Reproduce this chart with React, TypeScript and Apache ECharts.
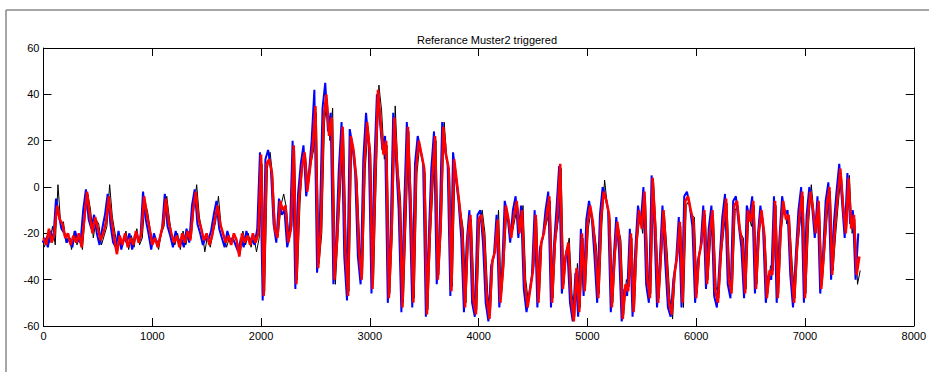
import React, { useEffect, useRef } from "react";
import * as echarts from "echarts";

const TITLE = "Referance Muster2 triggered";
const X_MIN = 0;
const X_MAX = 8000;
const X_INTERVAL = 1000;
const Y_MIN = -60;
const Y_MAX = 60;
const Y_INTERVAL = 20;
// sample spacing of the read-off values
const STEP = 25;
const BLUE_SHIFT = -10;
const BLACK_SHIFT = 8;

const RED = [
  -22, -25, -18, -24, -20, -8, -14, -16, -22, -20,
  -25, -21, -24, -20, -26, -14, -2, -12, -20, -13,
  -18, -23, -20, -15, -4, -14, -22, -29, -21, -25,
  -20, -26, -22, -25, -19, -24, -20, -4, -12, -18,
  -25, -22, -26, -21, -16, -5, -15, -20, -24, -21,
  -26, -20, -24, -19, -23, -10, -2, -14, -18, -23,
  -20, -25, -21, -14, -8, -16, -20, -24, -21, -25,
  -20, -23, -30, -20, -24, -21, -25, -20, -24, -20,
  14, -47, 10, 12, 6, -18, -22, -6, -10, -8,
  -24, -18, 18, -42, -5, 8, 15, -2, 8, 18,
  35, -35, -18, 30, 40, 22, 30, -40, -22, 5,
  26, -28, -47, 22, 16, 4, -28, -40, 10, 28,
  15, -44, 5, 42, 28, 14, 20, -48, -20, 30,
  10, -8, -52, -12, 26, -8, -50, 8, 20, 14,
  8, -55, -22, 5, 22, -40, -18, 26, 14, 8,
  -45, 12, 2, -8, -20, -52, -22, -12, -48, -55,
  -14, -12, -22, -48, -57, -32, -28, -14, -50, -35,
  -8, -14, -22, -12, -6, -20, -10, -42, -52, -44,
  -36, -12, -50, -24, -20, -12, -4, -50, -25, -12,
  10, -44, -30, -24, -48, -58, -35, -54, -20, -45,
  -16, -8, -15, -28, -48, -14, -2, -6, -12, -52,
  -30, -15, -25, -57, -42, -45, -20, -54, -25, -10,
  -18, -2, -40, -48, 4, -18, -50, -30, -10, -30,
  -50, -55, -38, -30, -15, -50, -6, -4, -10, -15,
  -48, -30, -24, -10, -42, -20, -10, -45, -50, -30,
  -15, -5, -40, -46, -8, -6, -18, -24, -46, -10,
  -15, -6, -44, -20, -10, -20, -48, -36, -38, -6,
  -48, -20, -6, -14, -12, -36, -50, -28, -12, -2,
  -48, -14, -2, -10, -20, -6, -44, -28, -8, 0,
  -38, -18, -4, 8, -8, -20, 4, -18, -12, -38,
  -30,
];

const BLUE = [
  -24, -22, -26, -19, -23, -5, -12, -18, -20, -24,
  -22, -26, -19, -23, -24, -10, -1, -14, -18, -12,
  -20, -25, -18, -12, -3, -16, -24, -26, -19, -27,
  -22, -24, -20, -27, -21, -22, -23, -2, -14, -20,
  -27, -20, -24, -23, -18, -3, -17, -21, -26, -19,
  -24, -22, -26, -18, -24, -8, -1, -16, -20, -25,
  -22, -23, -19, -12, -6, -18, -22, -26, -19, -23,
  -22, -25, -28, -22, -26, -19, -23, -22, -25, -18,
  15, -49, 12, 16, 8, -16, -24, -5, -12, -10,
  -26, -20, 20, -44, -3, 10, 18, -4, 6, 20,
  42, -37, -16, 34, 45, 24, 32, -42, -24, 8,
  28, -30, -49, 25, 18, 6, -30, -42, 12, 32,
  18, -46, 8, 40, 30, 16, 22, -50, -22, 32,
  12, -10, -54, -10, 28, -6, -52, 10, 22, 16,
  10, -56, -24, 8, 24, -42, -20, 28, 16, 10,
  -47, 15, 4, -6, -22, -54, -24, -10, -50, -56,
  -12, -10, -24, -50, -58, -34, -30, -12, -52, -37,
  -6, -12, -24, -10, -4, -22, -8, -44, -54, -46,
  -38, -10, -52, -26, -22, -10, -2, -52, -27, -10,
  9, -46, -32, -26, -50, -58, -37, -56, -18, -47,
  -14, -6, -13, -30, -50, -12, 0, -4, -10, -54,
  -32, -13, -27, -58, -44, -47, -18, -56, -27, -8,
  -16, 0, -42, -50, 5, -16, -52, -32, -8, -32,
  -52, -56, -40, -32, -13, -52, -4, -2, -8, -17,
  -50, -32, -26, -8, -44, -18, -8, -47, -52, -32,
  -13, -3, -42, -48, -6, -4, -16, -26, -48, -8,
  -13, -4, -46, -22, -8, -18, -50, -38, -40, -4,
  -50, -22, -4, -12, -10, -38, -52, -30, -10, 0,
  -50, -12, 0, -8, -22, -4, -46, -30, -6, 2,
  -40, -16, -2, 10, -6, -22, 6, -16, -10, -40,
  -20,
];

const BLACK = [
  -26, -21, -24, -17, -25, 1, -16, -15, -24, -21,
  -27, -19, -25, -21, -27, -12, -3, -10, -22, -14,
  -16, -25, -21, -17, 1, -13, -20, -27, -22, -24,
  -19, -27, -21, -26, -18, -25, -22, -6, -11, -19,
  -24, -23, -27, -20, -17, -4, -14, -22, -25, -20,
  -27, -19, -25, -20, -22, -9, 1, -13, -19, -28,
  -21, -26, -20, -15, -4, -17, -21, -26, -22, -24,
  -21, -24, -29, -19, -25, -20, -26, -21, -28, -22,
  10, -45, 8, 15, 4, -20, -21, -8, -3, -9,
  -22, -17, 16, -40, -7, 12, 14, 0, 10, 16,
  32, -33, -20, 28, 38, 20, 34, -42, -20, 3,
  24, -26, -45, 20, 14, 2, -26, -38, 8, 26,
  14, -42, 3, 44, 33, 12, 18, -46, -18, 35,
  8, -6, -50, -14, 24, -10, -48, 6, 18, 12,
  6, -53, -20, 3, 20, -38, -16, 28, 12, 6,
  -43, 10, 0, -10, -18, -50, -20, -14, -46, -53,
  -16, -10, -20, -46, -55, -30, -26, -10, -48, -33,
  -10, -16, -20, -14, -8, -18, -8, -40, -50, -42,
  -34, -14, -48, -22, -18, -14, -6, -48, -23, -14,
  8, -42, -28, -22, -46, -56, -33, -52, -22, -43,
  -18, -10, -17, -26, -46, -16, 3, -8, -14, -50,
  -28, -17, -23, -55, -40, -43, -22, -52, -23, -12,
  -20, -4, -38, -46, 2, -20, -48, -28, -12, -28,
  -48, -57, -36, -28, -17, -52, -8, -6, -12, -13,
  -46, -28, -22, -12, -40, -22, -12, -43, -48, -28,
  -17, -7, -38, -44, -10, -8, -20, -22, -44, -12,
  -17, -8, -42, -18, -12, -22, -46, -34, -36, -8,
  -46, -18, -8, -16, -14, -34, -48, -26, -14, -4,
  -46, -16, 1, -12, -18, -8, -42, -26, -10, -2,
  -36, -20, -6, 6, -10, -18, 5, -20, -14, -42,
  -36,
];

const FONT = "Liberation Sans, Arial, sans-serif";

function pairs(vals: number[], shift: number) {
  return vals.map((v, i) => [i * STEP + shift, v]);
}

export default function App() {
  const ref = useRef<HTMLDivElement>(null);
  useEffect(() => {
    if (!ref.current) return;
    const chart = echarts.init(ref.current, undefined, { renderer: "svg" });
    const axisLine = { show: true, onZero: false, lineStyle: { color: "#000", width: 1 } };
    const tick = { show: true, inside: true, length: 8, lineStyle: { color: "#000", width: 1 } };
    const label = {
      color: "#000",
      fontSize: 11,
      fontFamily: FONT,
      formatter: (v: number) => String(v),
    };
    chart.setOption({
      animation: false,
      backgroundColor: "#fff",
      title: {
        text: TITLE,
        left: 482,
        top: 29,
        textAlign: "center",
        textStyle: { color: "#000", fontSize: 11, fontWeight: "normal", fontFamily: FONT },
      },
      grid: { left: 43.5, top: 48, right: 7, bottom: 46, containLabel: false },
      graphic: [
        { type: "line", shape: { x1: 6, y1: 10, x2: 6, y2: 372 }, style: { stroke: "#888", lineWidth: 1.5 }, silent: true },
        { type: "line", shape: { x1: 6, y1: 10, x2: 929, y2: 10 }, style: { stroke: "#888", lineWidth: 1.5 }, silent: true },
      ],
      xAxis: [
        {
          type: "value", min: X_MIN, max: X_MAX, interval: X_INTERVAL, position: "bottom",
          axisLine, axisTick: tick, splitLine: { show: false },
          axisLabel: { ...label, margin: 4, showMaxLabel: true, showMinLabel: true },
        },
        {
          type: "value", min: X_MIN, max: X_MAX, interval: X_INTERVAL, position: "top",
          axisLine, axisTick: tick, splitLine: { show: false }, axisLabel: { show: false },
        },
      ],
      yAxis: [
        {
          type: "value", min: Y_MIN, max: Y_MAX, interval: Y_INTERVAL, position: "left",
          axisLine, axisTick: tick, splitLine: { show: false },
          axisLabel: { ...label, margin: 4 },
        },
        {
          type: "value", min: Y_MIN, max: Y_MAX, interval: Y_INTERVAL, position: "right",
          axisLine, axisTick: tick, splitLine: { show: false }, axisLabel: { show: false },
        },
      ],
      series: [
        {
          type: "line", name: "black", data: pairs(BLACK, BLACK_SHIFT), showSymbol: false,
          lineStyle: { color: "#000", width: 1 }, itemStyle: { color: "#000" }, clip: true,
        },
        {
          type: "line", name: "blue", data: pairs(BLUE, BLUE_SHIFT), showSymbol: false,
          lineStyle: { color: "#0000ff", width: 2 }, itemStyle: { color: "#0000ff" }, clip: true,
        },
        {
          type: "line", name: "red", data: pairs(RED, 0), showSymbol: false,
          lineStyle: { color: "#ff0000", width: 2.5 }, itemStyle: { color: "#ff0000" }, clip: true,
        },
      ],
    });
    return () => chart.dispose();
  }, []);
  return (
    <div
      ref={ref}
      style={{ position: "fixed", left: 0, top: 0, width: 929, height: 372, background: "#fff" }}
    />
  );
}
